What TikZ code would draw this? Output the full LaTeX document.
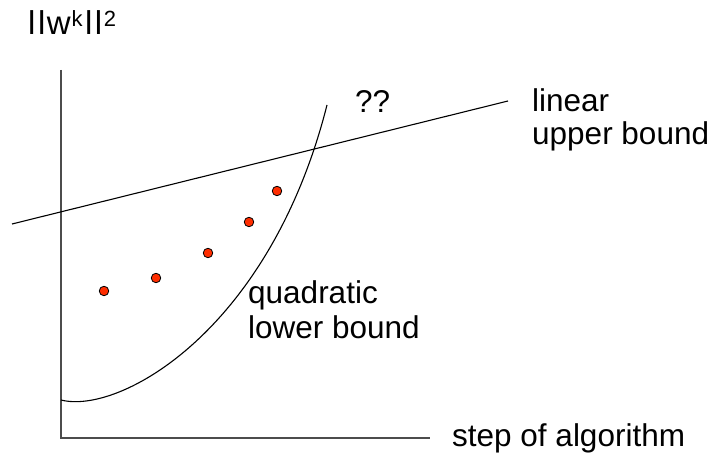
\documentclass[tikz,border=0pt]{standalone}
\usepackage{fontspec}
\setmainfont{Liberation Sans}
\definecolor{dotred}{RGB}{255,45,0}
\newcommand{\supx}[1]{\raisebox{8pt}{\fontsize{22}{22}\selectfont #1}}
\begin{document}
\begin{tikzpicture}[x=1pt,y=-1pt,
  lbl/.style={inner sep=0pt,anchor=base west,font=\fontsize{31.5}{36}\selectfont},
  axis/.style={draw=black!70,line width=1.5pt},
  bound/.style={draw=black,line width=1.1pt},
  dot/.style={circle,fill=dotred,draw=black,line width=0.8pt,minimum size=9.5pt,inner sep=0pt}]
\useasboundingbox (0,0) rectangle (715,462);
% axes
\coordinate (ytop) at (61,70);
\coordinate (O) at (61,438);
\coordinate (xend) at (430,438);
\draw[axis] (ytop) -- (O) -- (xend);
% linear upper bound
\coordinate (L1) at (12,224);
\coordinate (L2) at (508,101);
\draw[bound] (L1) -- (L2);
% quadratic lower bound
\coordinate (Q1) at (61,400);
\coordinate (Q2) at (327,105);
\draw[bound] (Q1) .. controls (120,415) and (270,330) .. (Q2);
% data points
\node[dot] (p1) at (104,291) {};
\node[dot] (p2) at (156,278) {};
\node[dot] (p3) at (208,253) {};
\node[dot] (p4) at (249,222) {};
\node[dot] (p5) at (277,191) {};
% labels
\node[lbl,font=\fontsize{33}{36}\selectfont] (ylab) at (28,35) {l\kern2.5pt l\kern1.5pt w\kern1pt\supx{k}\kern2.5pt l\kern2.5pt l\kern1.5pt\supx{2}};
\node[lbl] (qq) at (355,113) {??};
\node[lbl] (lin1) at (532,112) {linear};
\node[lbl] (lin2) at (532,145) {upper bound};
\node[lbl] (quad1) at (248,304) {quadratic};
\node[lbl] (quad2) at (248,339) {lower bound};
\node[lbl] (xlab) at (452,446) {step of algorithm};
\end{tikzpicture}
\end{document}
